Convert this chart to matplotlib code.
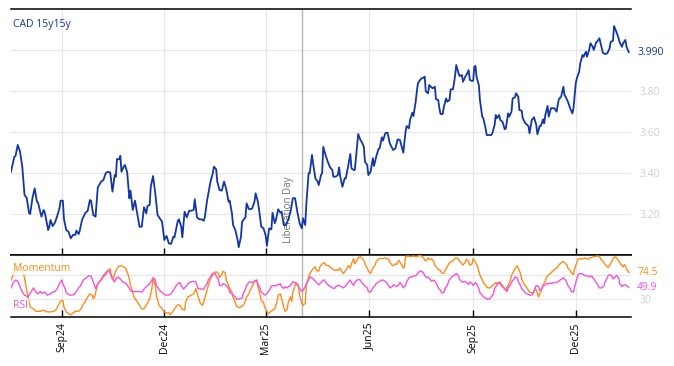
#import libraries
import pandas as pd
import numpy as np
import matplotlib
matplotlib.use('Agg')
import matplotlib.pyplot as plt
import matplotlib.dates as mdates

plt.rcParams['font.family'] = ['Open Sans', 'DejaVu Sans']

#first date on the chart and the event marker
start = pd.Timestamp('2024-07-18')
liberation_day = pd.Timestamp('2025-04-02')

#CAD 15y15y rate, day offsets from start and values
cad_days = [0, 3, 4, 6, 8, 10, 12, 14, 16, 17, 19, 21, 23, 24, 27, 29, 30, 33, 34, 35,
            37, 39, 41, 43, 44, 46, 47, 49, 51, 53, 55, 57, 58, 60, 61, 63, 66, 68, 70, 71,
            73, 75, 77, 80, 82, 84, 86, 88, 90, 92, 93, 94, 96, 97, 98, 100, 101, 103, 105, 106,
            108, 110, 112, 114, 116, 118, 120, 121, 123, 124, 126, 128, 130, 132, 134, 136, 138, 140, 142, 144,
            145, 148, 149, 151, 152, 154, 156, 158, 160, 162, 163, 165, 167, 169, 171, 172, 174, 177, 179, 180,
            182, 183, 185, 187, 189, 191, 193, 194, 196, 197, 199, 201, 202, 204, 205, 208, 209, 211, 213, 214,
            216, 217, 219, 220, 222, 224, 226, 227, 229, 231, 232, 234, 235, 237, 239, 240, 242, 244, 246, 248,
            250, 252, 254, 256, 258, 259, 261, 262, 264, 265, 267, 268, 270, 272, 273, 275, 276, 277, 279, 281,
            283, 285, 286, 288, 290, 291, 292, 294, 296, 297, 299, 301, 302, 304, 305, 307, 308, 310, 311, 313,
            314, 316, 317, 319, 321, 322, 324, 326, 327, 329, 330, 332, 334, 336, 338, 339, 341, 343, 345, 347,
            348, 350, 351, 353, 354, 356, 357, 359, 360, 361, 364, 365, 367, 368, 370, 371, 373, 374, 376, 377,
            379, 380, 381, 383, 384, 386, 387, 389, 390, 392, 393, 394, 395, 397, 398, 400, 401, 403, 404, 406,
            407, 409, 410, 411, 412, 413, 415, 416, 418, 419, 421, 422, 423, 426, 427, 429, 430, 431, 433, 434,
            436, 438, 439, 441, 442, 444, 445, 447, 448, 450, 451, 453, 454, 456, 458, 459, 460, 462, 464, 466,
            467, 469, 470, 472, 473, 474, 476, 477, 479, 481, 482, 484, 485, 486, 488, 490, 491, 492, 494, 496,
            498, 499, 501, 502, 504, 505, 507, 508, 510, 511, 513, 514, 516, 517, 519, 520, 522, 523, 525, 527,
            529, 531, 532, 534, 535, 537, 539, 540, 542, 543, 545, 546, 548]
cad_vals = [3.406, 3.480, 3.483, 3.537, 3.504, 3.431, 3.293, 3.277, 3.205, 3.200, 3.277, 3.325, 3.260, 3.255, 3.187, 3.220, 3.206, 3.122, 3.138, 3.171,
            3.141, 3.158, 3.190, 3.228, 3.265, 3.265, 3.174, 3.122, 3.114, 3.081, 3.098, 3.098, 3.119, 3.102, 3.119, 3.171, 3.206, 3.215, 3.268, 3.265,
            3.195, 3.187, 3.330, 3.358, 3.366, 3.399, 3.406, 3.403, 3.309, 3.390, 3.382, 3.468, 3.467, 3.484, 3.406, 3.431, 3.439, 3.406, 3.277, 3.314,
            3.220, 3.265, 3.203, 3.138, 3.138, 3.233, 3.203, 3.239, 3.244, 3.333, 3.385, 3.301, 3.195, 3.179, 3.162, 3.073, 3.093, 3.057, 3.054, 3.089,
            3.086, 3.167, 3.174, 3.138, 3.086, 3.211, 3.184, 3.216, 3.216, 3.220, 3.272, 3.184, 3.174, 3.174, 3.167, 3.187, 3.268, 3.358, 3.399, 3.431,
            3.418, 3.358, 3.317, 3.314, 3.358, 3.320, 3.260, 3.265, 3.203, 3.146, 3.122, 3.073, 3.038, 3.089, 3.162, 3.184, 3.252, 3.224, 3.224, 3.228,
            3.260, 3.301, 3.260, 3.223, 3.138, 3.130, 3.093, 3.045, 3.130, 3.125, 3.206, 3.155, 3.171, 3.223, 3.206, 3.211, 3.146, 3.146, 3.174, 3.211,
            3.277, 3.277, 3.211, 3.155, 3.130, 3.179, 3.146, 3.249, 3.399, 3.399, 3.488, 3.447, 3.374, 3.358, 3.341, 3.390, 3.399, 3.528, 3.488, 3.455,
            3.428, 3.415, 3.382, 3.382, 3.390, 3.428, 3.385, 3.333, 3.374, 3.374, 3.431, 3.493, 3.423, 3.415, 3.415, 3.528, 3.590, 3.561, 3.553, 3.528,
            3.455, 3.439, 3.390, 3.406, 3.472, 3.434, 3.480, 3.517, 3.520, 3.574, 3.558, 3.594, 3.597, 3.545, 3.523, 3.512, 3.520, 3.564, 3.561, 3.520,
            3.499, 3.601, 3.629, 3.618, 3.659, 3.694, 3.678, 3.748, 3.797, 3.838, 3.862, 3.862, 3.870, 3.797, 3.789, 3.829, 3.818, 3.813, 3.821, 3.760,
            3.756, 3.716, 3.688, 3.688, 3.723, 3.764, 3.748, 3.756, 3.808, 3.808, 3.838, 3.878, 3.927, 3.886, 3.873, 3.878, 3.845, 3.870, 3.878, 3.902,
            3.854, 3.849, 3.850, 3.919, 3.922, 3.870, 3.829, 3.756, 3.675, 3.667, 3.618, 3.585, 3.585, 3.585, 3.594, 3.634, 3.683, 3.667, 3.683, 3.659,
            3.650, 3.613, 3.618, 3.691, 3.675, 3.699, 3.764, 3.769, 3.789, 3.772, 3.707, 3.704, 3.667, 3.645, 3.634, 3.629, 3.594, 3.659, 3.672, 3.634,
            3.589, 3.629, 3.629, 3.662, 3.642, 3.683, 3.727, 3.675, 3.716, 3.716, 3.716, 3.699, 3.732, 3.760, 3.772, 3.821, 3.780, 3.772, 3.748, 3.716,
            3.691, 3.716, 3.838, 3.862, 3.894, 3.935, 3.976, 3.967, 3.992, 3.967, 4.003, 4.033, 4.016, 4.000, 4.036, 4.041, 4.057, 4.033, 3.987, 3.980,
            3.984, 4.008, 4.040, 4.045, 4.117, 4.089, 4.057, 4.036, 4.016, 4.033, 4.049, 4.016, 3.990]

#momentum oscillator
mom_days = [0, 3, 5, 8, 11, 13, 15, 17, 20, 22, 26, 29, 32, 35, 38, 40, 42, 44, 46, 47,
            49, 51, 53, 55, 57, 60, 62, 64, 67, 69, 70, 72, 73, 74, 76, 77, 80, 82, 84, 86,
            88, 89, 91, 92, 94, 95, 97, 100, 102, 103, 105, 106, 108, 109, 112, 114, 116, 118, 120, 123,
            125, 126, 128, 129, 131, 134, 136, 138, 140, 141, 143, 145, 148, 150, 152, 154, 155, 157, 160, 162,
            164, 166, 168, 170, 171, 173, 175, 177, 179, 180, 182, 184, 185, 187, 188, 190, 191, 193, 194, 196,
            197, 199, 200, 202, 204, 206, 208, 209, 211, 212, 214, 215, 216, 218, 219, 221, 222, 224, 225, 227,
            228, 230, 232, 234, 236, 237, 239, 240, 242, 243, 245, 246, 248, 249, 250, 252, 253, 255, 256, 258,
            259, 261, 262, 264, 266, 268, 270, 271, 273, 274, 276, 278, 279, 282, 284, 285, 287, 289, 290, 292,
            293, 295, 296, 298, 299, 301, 302, 304, 305, 307, 308, 310, 311, 313, 314, 316, 317, 319, 320, 321,
            323, 324, 326, 327, 329, 330, 332, 333, 335, 336, 338, 339, 341, 342, 344, 345, 347, 348, 349, 350,
            352, 355, 357, 360, 362, 364, 366, 367, 368, 370, 371, 373, 375, 376, 378, 379, 381, 382, 384, 385,
            387, 388, 389, 391, 392, 394, 395, 397, 398, 400, 401, 403, 404, 406, 407, 409, 410, 412, 414, 416,
            418, 419, 421, 422, 423, 425, 426, 427, 429, 430, 432, 434, 435, 437, 438, 439, 441, 443, 444, 446,
            447, 449, 450, 452, 453, 455, 456, 458, 459, 460, 462, 463, 465, 466, 468, 469, 471, 472, 474, 475,
            477, 478, 480, 481, 483, 484, 486, 487, 489, 490, 492, 493, 494, 496, 497, 499, 500, 502, 503, 505,
            506, 508, 509, 510, 512, 513, 514, 517, 518, 520, 521, 522, 524, 526, 527, 529, 530, 531, 533, 534,
            536, 537, 539, 540, 542, 543, 544, 545, 546, 548]
mom_vals = [62, 75, 85, 88, 75, 55, 35, 17, 14, 10, 10, 12, 9, 9, 10, 13, 20, 27, 28, 17,
            9, 6, 4, 7, 10, 10, 14, 21, 30, 37, 39, 37, 31, 33, 48, 56, 62, 67, 71, 78,
            81, 69, 64, 73, 81, 84, 86, 84, 81, 76, 64, 53, 42, 34, 26, 20, 14, 14, 20, 31,
            48, 64, 53, 37, 21, 14, 9, 7, 8, 4, 8, 14, 21, 20, 13, 12, 26, 34, 37, 39,
            48, 34, 23, 20, 26, 39, 53, 64, 71, 74, 76, 73, 66, 71, 77, 74, 62, 53, 48, 42,
            34, 24, 19, 16, 17, 20, 27, 34, 39, 45, 51, 56, 60, 62, 51, 37, 28, 25, 17, 10,
            6, 9, 12, 14, 26, 37, 39, 31, 17, 10, 13, 26, 34, 26, 42, 53, 58, 53, 37, 23,
            20, 23, 53, 67, 76, 81, 84, 78, 77, 84, 89, 91, 87, 86, 82, 81, 78, 79, 78, 82,
            77, 73, 76, 81, 86, 82, 89, 98, 89, 95, 99, 101, 99, 95, 89, 82, 77, 73, 78, 82,
            87, 93, 97, 98, 98, 98, 99, 98, 97, 92, 87, 86, 89, 88, 95, 92, 86, 82, 84, 101,
            102, 101, 102, 101, 103, 102, 99, 95, 94, 99, 96, 98, 93, 87, 82, 80, 78, 74, 73, 78,
            84, 88, 91, 93, 94, 98, 99, 97, 93, 89, 87, 92, 97, 93, 87, 89, 98, 92, 84, 70,
            63, 58, 53, 51, 49, 49, 51, 53, 56, 58, 56, 59, 55, 51, 47, 46, 53, 62, 70, 77,
            81, 86, 82, 73, 64, 56, 53, 48, 45, 42, 41, 40, 48, 45, 34, 39, 48, 54, 60, 67,
            71, 72, 76, 78, 81, 82, 87, 89, 92, 93, 89, 88, 82, 78, 74, 71, 81, 92, 97, 98,
            97, 98, 99, 98, 97, 99, 99, 101, 101, 102, 102, 101, 95, 91, 88, 84, 83, 87, 93, 98,
            101, 99, 95, 91, 86, 84, 88, 86, 81, 74.5]

#RSI
rsi_days = [0, 2, 4, 6, 8, 10, 12, 15, 20, 22, 24, 26, 28, 30, 32, 35, 37, 39, 41, 43,
            45, 46, 48, 49, 52, 54, 56, 58, 60, 62, 64, 67, 69, 71, 72, 74, 75, 77, 80, 82,
            84, 86, 87, 89, 90, 92, 93, 95, 97, 99, 101, 103, 105, 107, 109, 112, 114, 116, 118, 120,
            123, 125, 126, 128, 129, 132, 134, 137, 140, 142, 144, 146, 148, 150, 151, 153, 154, 156, 158, 160,
            162, 164, 165, 166, 169, 171, 172, 174, 175, 177, 178, 179, 181, 182, 184, 185, 187, 188, 190, 191,
            193, 194, 196, 197, 199, 200, 202, 203, 205, 206, 208, 209, 211, 212, 214, 215, 216, 218, 219, 221,
            222, 224, 225, 227, 228, 230, 231, 233, 234, 236, 237, 239, 240, 242, 243, 245, 246, 248, 249, 250,
            252, 253, 255, 256, 258, 259, 261, 262, 264, 265, 266, 268, 270, 271, 273, 274, 277, 278, 280, 282,
            285, 287, 288, 290, 292, 293, 295, 297, 299, 301, 302, 304, 305, 307, 308, 310, 311, 313, 314, 316,
            317, 319, 320, 321, 323, 324, 326, 327, 329, 330, 332, 333, 335, 336, 338, 339, 341, 342, 344, 345,
            347, 348, 350, 351, 353, 354, 356, 357, 359, 360, 361, 363, 364, 366, 367, 369, 370, 372, 373, 375,
            376, 378, 379, 381, 382, 384, 385, 387, 388, 389, 391, 392, 394, 395, 397, 398, 400, 401, 403, 404,
            406, 407, 409, 410, 412, 413, 415, 416, 418, 419, 421, 422, 423, 425, 426, 428, 429, 431, 432, 434,
            435, 437, 438, 440, 441, 443, 444, 446, 447, 449, 450, 452, 453, 455, 456, 458, 459, 460, 462, 463,
            465, 466, 468, 469, 471, 472, 474, 475, 477, 478, 480, 481, 483, 484, 486, 487, 489, 490, 492, 493,
            494, 496, 497, 499, 500, 502, 503, 505, 506, 508, 509, 510, 512, 513, 515, 516, 518, 519, 521, 522,
            524, 526, 527, 529, 530, 531, 533, 534, 536, 537, 539, 540, 542, 543, 545, 546, 548]
rsi_vals = [49, 58, 62, 60, 51, 42, 37, 34, 49, 42, 39, 43, 40, 42, 37, 39, 42, 43, 48, 56,
            62, 56, 48, 41, 37, 37, 38, 43, 49, 53, 62, 66, 69, 69, 64, 53, 48, 56, 63, 70,
            74, 78, 77, 69, 63, 59, 64, 67, 64, 59, 58, 54, 48, 43, 43, 43, 43, 42, 47, 51,
            56, 62, 66, 62, 53, 45, 41, 37, 37, 39, 45, 51, 56, 58, 53, 47, 49, 53, 58, 59,
            60, 59, 53, 48, 47, 47, 51, 56, 62, 67, 71, 73, 73, 69, 63, 53, 53, 56, 54, 53,
            48, 42, 39, 37, 34, 31, 30, 31, 32, 39, 47, 53, 58, 59, 58, 59, 60, 62, 56, 48,
            42, 39, 37, 39, 42, 48, 52, 53, 52, 54, 54, 56, 51, 48, 51, 49, 51, 53, 56, 59,
            58, 56, 51, 48, 43, 45, 51, 56, 62, 67, 67, 64, 60, 58, 54, 56, 62, 62, 56, 53,
            49, 48, 51, 53, 52, 51, 49, 53, 58, 62, 58, 53, 58, 62, 63, 62, 58, 54, 52, 49,
            43, 42, 45, 49, 53, 56, 59, 60, 62, 62, 60, 58, 53, 49, 51, 54, 53, 51, 54, 58,
            53, 49, 53, 59, 66, 67, 67, 69, 69, 71, 74, 77, 77, 74, 69, 66, 67, 63, 60, 62,
            60, 54, 49, 45, 41, 41, 48, 53, 59, 63, 67, 69, 71, 73, 69, 63, 59, 59, 60, 58,
            55, 59, 56, 53, 58, 56, 48, 41, 37, 34, 32, 31, 30, 31, 34, 39, 48, 54, 58, 56,
            53, 49, 47, 43, 49, 54, 59, 63, 67, 66, 60, 53, 48, 44, 41, 39, 38, 37, 37, 39,
            49, 53, 51, 45, 48, 52, 54, 56, 56, 57, 56, 58, 58, 58, 60, 62, 64, 66, 62, 58,
            53, 48, 43, 42, 51, 64, 71, 73, 73, 71, 70, 69, 69, 67, 69, 66, 62, 58, 53, 49,
            49, 53, 59, 66, 70, 71, 69, 64, 67, 70, 66, 56, 51, 53, 54, 53, 49.9]

#last values shown on the right axis
cad_last = 3.990
mom_last = 74.5
rsi_last = 49.9

#y axis ticks
price_ticks = [3.2, 3.4, 3.6, 3.8, 4.0]
price_labels = ['3.20', '3.40', '3.60', '3.80', '']
osc_ticks = [30, 70]
osc_labels = ['30', '']

#colours
blue = '#1236a5'
orange = '#ff8c1a'
pink = '#f552dc'
label_grey = '#cfcfcf'
grid_grey = '#e6e6e6'


def to_dates(days):
    return start + pd.to_timedelta(days, unit='D')


#create figure with two panels
fig = plt.figure(figsize=(6.74, 3.66), dpi=100)
ax1 = fig.add_axes([11/674, 111/366, 620/674, 246/366])
ax2 = fig.add_axes([11/674, 49/366, 620/674, 62/366], sharex=ax1)

#top panel: rate
ax1.plot(to_dates(cad_days), cad_vals, color=blue, lw=1.3, zorder=3)
ax1.set_ylim(3.0, 4.2)
ax1.set_xlim(start, start + pd.Timedelta(days=550))
ax1.yaxis.tick_right()
ax1.set_yticks(price_ticks)
ax1.set_yticklabels(price_labels)
ax1.tick_params(axis='y', length=0, pad=6, labelcolor=label_grey, labelsize=7.5)
ax1.tick_params(axis='x', labelbottom=False, direction='in', length=5, width=1, color='black')
ax1.grid(True, color=grid_grey, lw=0.8)
ax1.set_axisbelow(True)
for side in ['left', 'right']:
    ax1.spines[side].set_visible(False)
for side in ['top', 'bottom']:
    ax1.spines[side].set_linewidth(1.1)

ax1.annotate(f'{cad_last:.3f}', xy=(1, cad_last), xycoords=('axes fraction', 'data'),
             xytext=(4.5, 0), textcoords='offset points', va='center', color=blue, fontsize=7.5)
ax1.annotate('CAD 15y15y', xy=(0, 1), xycoords='axes fraction', xytext=(1.5, -11.5),
             textcoords='offset points', va='center', color=blue, fontsize=7.5)

#liberation day marker
ax1.axvline(liberation_day, color='#b4b4b4', lw=1, zorder=2)
ax1.text(liberation_day - pd.Timedelta(days=7), 3.058, 'Liberation Day', rotation=90,
         ha='right', va='bottom', color='#707070', fontsize=7,
         bbox=dict(fc='white', ec='none', pad=0.5), zorder=2)

#bottom panel: momentum and rsi
ax2.plot(to_dates(mom_days), mom_vals, color=orange, lw=1.0, zorder=3)
ax2.plot(to_dates(rsi_days), rsi_vals, color=pink, lw=1.0, zorder=3)
ax2.axvline(liberation_day, color='#b4b4b4', lw=1, zorder=2)
ax2.set_ylim(0.5, 103.8)
ax2.yaxis.tick_right()
ax2.set_yticks(osc_ticks)
ax2.set_yticklabels(osc_labels)
ax2.tick_params(axis='y', length=0, pad=6, labelcolor=label_grey, labelsize=7.5)
ax2.xaxis.set_major_locator(mdates.MonthLocator(bymonth=[3, 6, 9, 12]))
ax2.xaxis.set_major_formatter(mdates.DateFormatter('%b%y'))
ax2.tick_params(axis='x', direction='in', length=5, width=1, color='black',
                labelrotation=90, labelsize=7.5, pad=4)
ax2.grid(True, color=grid_grey, lw=0.8)
ax2.set_axisbelow(True)
for side in ['left', 'right']:
    ax2.spines[side].set_visible(False)
for side in ['top', 'bottom']:
    ax2.spines[side].set_linewidth(1.1)

ax2.annotate(f'{mom_last}', xy=(1, mom_last), xycoords=('axes fraction', 'data'),
             xytext=(4.5, 0), textcoords='offset points', va='center', color=orange, fontsize=7.5)
ax2.annotate(f'{rsi_last}', xy=(1, rsi_last), xycoords=('axes fraction', 'data'),
             xytext=(4.5, 0), textcoords='offset points', va='center', color=pink, fontsize=7.5)

box = dict(fc='white', ec='none', alpha=0.8, pad=1)
ax2.annotate('Momentum', xy=(0, 1), xycoords='axes fraction', xytext=(1.5, -9.5),
             textcoords='offset points', va='center', color=orange, fontsize=7.5, bbox=box, zorder=4)
ax2.annotate('RSI', xy=(0, 0), xycoords='axes fraction', xytext=(1.5, 8),
             textcoords='offset points', va='center', color=pink, fontsize=7.5, bbox=box, zorder=4)

fig.savefig('out.png', dpi=100)
